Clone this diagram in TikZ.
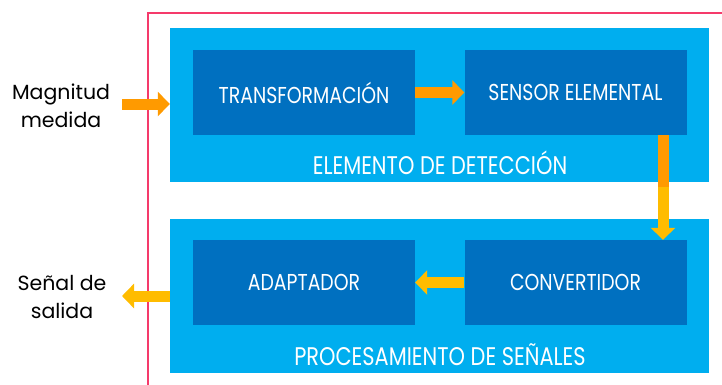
\documentclass[tikz,border=0pt]{standalone}
\usepackage{fontspec}
\setmainfont{Poppins}
\newfontfamily\boxfont[FakeStretch=0.82]{Poppins}
\usetikzlibrary{arrows.meta}
\definecolor{lblue}{HTML}{00AEEF}
\definecolor{dblue}{HTML}{0070C0}
\definecolor{pinkb}{HTML}{F53A6B}
\definecolor{orng}{HTML}{FF9A00}
\definecolor{yelw}{HTML}{FFBC00}
\tikzset{
  panel/.style={fill=lblue, draw=none, minimum width=539pt, minimum height=154pt, inner sep=0pt},
  blockbox/.style={fill=dblue, draw=none, minimum width=222pt, minimum height=85pt, inner sep=0pt,
    text=white, font=\boxfont\fontsize{23}{25}\selectfont},
  paneltitle/.style={text=white, font=\boxfont\fontsize{25.5}{28}\selectfont, inner sep=0pt},
  sidelabel/.style={align=center, font=\fontsize{20.5}{28.5}\selectfont, inner sep=0pt},
  blockarrow/.style={line width=11pt, -{Triangle[width=24pt,length=12pt]}},
}
\begin{document}
\begin{tikzpicture}[x=1pt,y=-1pt]
\useasboundingbox (0,0) rectangle (722,384);
\begin{scope}
\clip (0,0) rectangle (722,384);
\draw[pinkb, line width=2.6pt] (148,400) -- (148,13) -- (740,13);
\end{scope}
\node[panel] (top) at (439.5,105) {};
\node[panel] (bot) at (439.5,296) {};
\node[blockbox] (tr) at (304,92.5) {TRANSFORMACIÓN};
\node[blockbox] (se) at (575.5,92.5) {SENSOR ELEMENTAL};
\node[blockbox] (ad) at (304,282.5) {ADAPTADOR};
\node[blockbox] (cv) at (575.5,282.5) {CONVERTIDOR};
\node[paneltitle] (t1) at (440,163) {ELEMENTO DE DETECCIÓN};
\node[paneltitle] (t2) at (440,355) {PROCESAMIENTO DE SEÑALES};
\node[sidelabel] (mm) at (61,106) {Magnitud\\medida};
\node[sidelabel] (ss) at (62,297) {Señal de\\salida};
\coordinate (in) at (122,104);
\coordinate (out) at (122,296);
\draw[blockarrow, orng] (in) -- (in -| top.west);
\draw[blockarrow, orng] (tr.east) -- (se.west);
\draw[blockarrow, yelw] ([xshift=87.5pt]se.south) -- ([xshift=87.5pt]cv.north);
\draw[line width=11pt, orng] ([xshift=87.5pt]se.south) -- ([xshift=87.5pt,yshift=-52pt]se.south);
\draw[blockarrow, yelw] (cv.west) -- (ad.east);
\draw[blockarrow, yelw] (out -| bot.west) -- (out);
\end{tikzpicture}
\end{document}
